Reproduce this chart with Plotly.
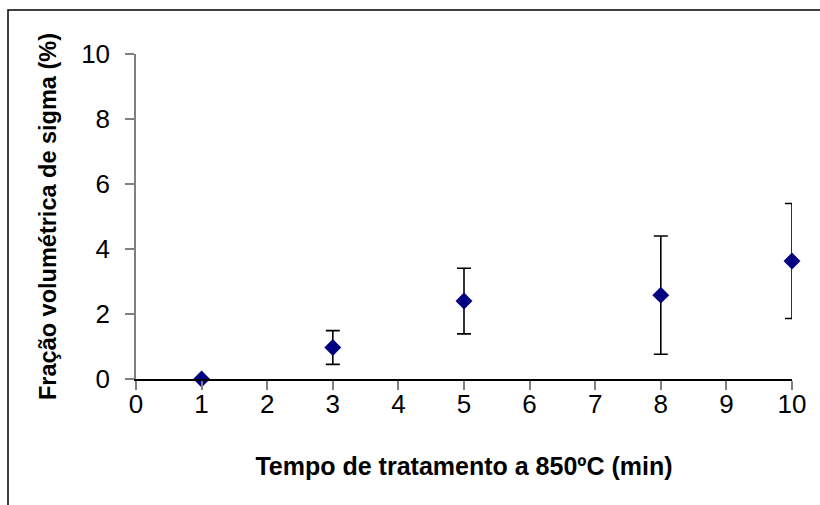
import plotly.graph_objects as go

tempo = [1, 3, 5, 8, 10]
fracao = [0.0, 0.97, 2.4, 2.58, 3.63]
erro = [0.0, 0.52, 1.01, 1.82, 1.77]

x_ticks = list(range(0, 11))
y_ticks = [0, 2, 4, 6, 8, 10]

W, H = 820, 505
L, R, T, B = 136, 28, 54, 126
pw, ph = W - L - R, H - T - B

fig = go.Figure()
fig.add_trace(go.Scatter(
    x=tempo, y=fracao, mode="markers",
    marker=dict(symbol="diamond", size=13, color="#000080"),
    error_y=dict(type="data", array=erro, visible=True, color="black",
                 thickness=1.6, width=7),
    showlegend=False, cliponaxis=False,
))

# outer frame (partially visible)
fx = (8 - L) / pw
fy = 1 + (T - 10) / ph
fig.add_shape(type="path", xref="paper", yref="paper",
              path=f"M {fx} -0.5 L {fx} {fy} L 1.5 {fy}",
              line=dict(color="black", width=1.5))

fig.update_layout(
    width=W, height=H,
    margin=dict(l=L, r=R, t=T, b=B),
    paper_bgcolor="white", plot_bgcolor="white",
    font=dict(family="Liberation Sans, Arial, sans-serif", color="black"),
    xaxis=dict(
        range=[0, 10], tickvals=x_ticks, ticktext=[str(v) for v in x_ticks],
        showgrid=False, zeroline=False, showline=True, linecolor="black", linewidth=1.5,
        ticks="outside", ticklen=9, tickcolor="#808080", tickwidth=1.5,
        tickfont=dict(size=26), ticklabelstandoff=-8,
        title=dict(text="<b>Tempo de tratamento a 850ºC (min)</b>", font=dict(size=25), standoff=40),
    ),
    yaxis=dict(
        range=[0, 10], tickvals=y_ticks, ticktext=[str(v) for v in y_ticks],
        showgrid=False, zeroline=False, showline=True, linecolor="#808080", linewidth=1.5,
        ticks="outside", ticklen=9, tickcolor="#808080", tickwidth=1.5,
        tickfont=dict(size=26), ticklabelstandoff=10,
        title=dict(text="<b>Fração volumétrica de sigma (%)</b>", font=dict(size=23.5), standoff=18),
    ),
)

fig.write_html("out.html")
